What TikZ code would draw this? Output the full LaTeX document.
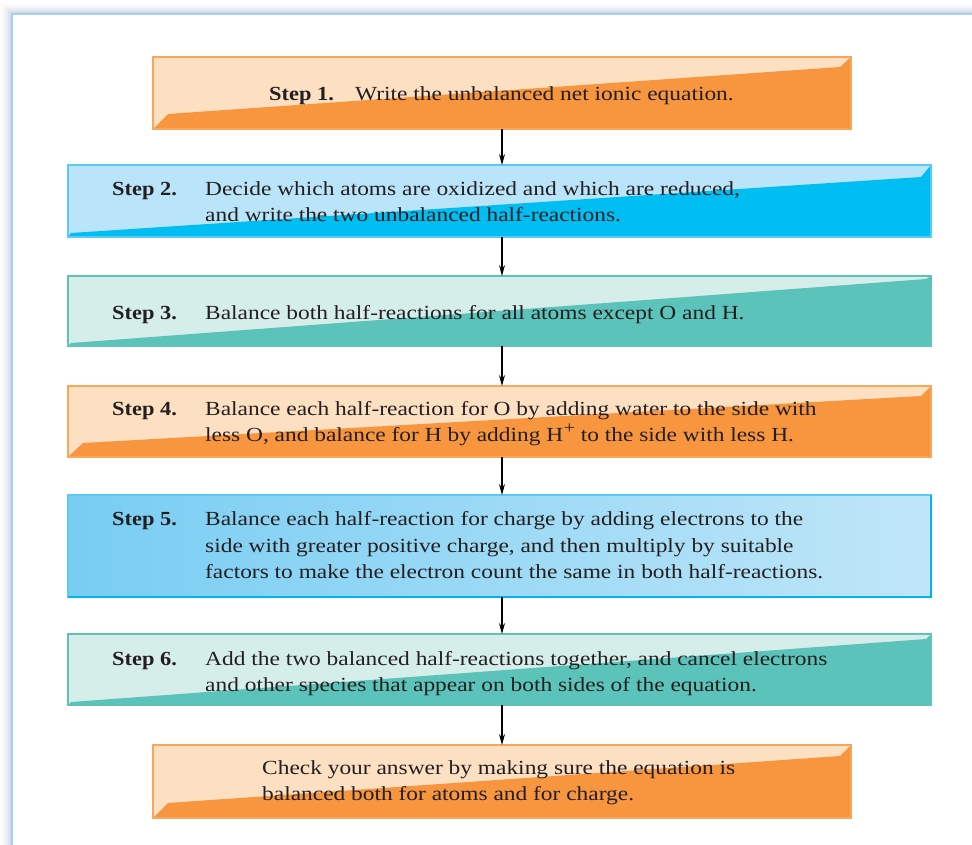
\documentclass[tikz,border=0pt]{standalone}
\usepackage{fontspec}
\setmainfont[FakeStretch=1.17,BoldFeatures={FakeStretch=1.12}]{Liberation Serif}
\usetikzlibrary{arrows.meta,calc}
\definecolor{orD}{HTML}{F7963F}
\definecolor{orL}{HTML}{FDDFC2}
\definecolor{orB}{HTML}{F9A65A}
\definecolor{blD}{HTML}{00BDF2}
\definecolor{blL}{HTML}{B9E4F9}
\definecolor{blB}{HTML}{5BCBF5}
\definecolor{tlD}{HTML}{5CC3BB}
\definecolor{tlL}{HTML}{D6EEEA}
\definecolor{tlB}{HTML}{5CC3BB}
\definecolor{g5L}{HTML}{78CDF3}
\definecolor{g5R}{HTML}{C0E6F8}
\definecolor{g5B}{HTML}{00B4EC}
\definecolor{txt}{HTML}{231F20}
\definecolor{frameB}{HTML}{A8D0EE}
\definecolor{shad}{HTML}{8FA3C0}
\newcommand{\supplus}{\kern0.5pt\raisebox{8pt}{\fontsize{17}{17}\selectfont +}}
\tikzset{
  box/.style={rectangle, inner sep=0pt, outer sep=0pt, line width=1.2pt},
  orbox/.style={box, fill=orL, draw=orB},
  blbox/.style={box, fill=blL, draw=blB},
  tlbox/.style={box, fill=tlL, draw=tlB},
  steplbl/.style={anchor=base west, inner sep=0pt, text=txt, font=\fontsize{20}{26}\selectfont\bfseries},
  body/.style={anchor=base west, inner sep=0pt, text=txt, font=\fontsize{20}{26}\selectfont},
  flow/.style={draw=black, line width=1.1pt, -{Stealth[length=11pt,width=6pt]}},
}
\begin{document}
\begin{tikzpicture}[x=1pt,y=-1pt]
\useasboundingbox (0,0) rectangle (972,844);
% frame shadow
\foreach \d/\o in {12/0.02,10/0.04,8/0.06,6/0.09,4/0.13,2/0.18}{
  \fill[shad, opacity=\o] (12-\d,14-\d) rectangle (1000,870);
}
\fill[white] (12,14) rectangle (1000,870);
\draw[frameB, line width=2pt] (12,14) -- (12,870) (12,14) -- (1000,14);

% boxes
\node[orbox, minimum width=698pt, minimum height=72pt] (b1) at (502,93) {};
\fill[orD] (153,129) -- (168,114) -- (840,67) -- (851,57) -- (851,129) -- cycle;
\draw[orB, line width=1.2pt] (b1.south west) rectangle (b1.north east);

\node[blbox, minimum width=863pt, minimum height=72pt] (b2) at (499.5,201) {};
\fill[blD] (68,237) -- (71,233) -- (921,177) -- (931,165) -- (931,237) -- cycle;
\draw[blB, line width=1.2pt] (b2.south west) rectangle (b2.north east);

\node[tlbox, minimum width=863pt, minimum height=70pt] (b3) at (499.5,311) {};
\fill[tlD] (68,346) -- (71,343) -- (926,279) -- (931,276) -- (931,346) -- cycle;
\draw[tlB, line width=1.2pt] (b3.south west) rectangle (b3.north east);

\node[orbox, minimum width=863pt, minimum height=71pt] (b4) at (499.5,421.5) {};
\fill[orD] (68,457) -- (83,443) -- (921,396) -- (931,386) -- (931,457) -- cycle;
\draw[orB, line width=1.2pt] (b4.south west) rectangle (b4.north east);

\node[box, minimum width=863pt, minimum height=102pt, left color=g5L, right color=g5R, draw=blB] (b5) at (499.5,546) {};
\draw[g5B, line width=2.5pt] (b5.north east) -- (b5.south east) -- (b5.south west);

\node[tlbox, minimum width=863pt, minimum height=71pt] (b6) at (499.5,669.5) {};
\fill[tlD] (68,705) -- (71,702) -- (926,639) -- (931,634) -- (931,705) -- cycle;
\draw[tlB, line width=1.2pt] (b6.south west) rectangle (b6.north east);

\node[orbox, minimum width=698pt, minimum height=73pt] (b7) at (502,781.5) {};
\fill[orD] (153,818) -- (168,803) -- (840,756) -- (851,745) -- (851,818) -- cycle;
\draw[orB, line width=1.2pt] (b7.south west) rectangle (b7.north east);

% arrows
\coordinate (ax) at (502,0);
\draw[flow] (b1.south -| ax) -- (b2.north -| ax);
\draw[flow] (b2.south -| ax) -- (b3.north -| ax);
\draw[flow] (b3.south -| ax) -- (b4.north -| ax);
\draw[flow] (b4.south -| ax) -- (b5.north -| ax);
\draw[flow] (b5.south -| ax) -- (b6.north -| ax);
\draw[flow] (b6.south -| ax) -- (b7.north -| ax);

% texts
\node[steplbl] (s1) at (269,100) {Step 1.};
\node[body] (t1) at (355,100) {Write the unbalanced net ionic equation.};

\node[steplbl] (s2) at (112,195) {Step 2.};
\node[body] (t2a) at (205,195) {Decide which atoms are oxidized and which are reduced,};
\node[body] (t2b) at (205,221) {and write the two unbalanced half-reactions.};

\node[steplbl] (s3) at (112,319) {Step 3.};
\node[body] (t3) at (205,319) {Balance both half-reactions for all atoms except O and H.};

\node[steplbl] (s4) at (112,415) {Step 4.};
\node[body] (t4a) at (205,415) {Balance each half-reaction for O by adding water to the side with};
\node[body] (t4b) at (205,441) {less O, and balance for H by adding H\supplus{} to the side with less H.};

\node[steplbl] (s5) at (112,525) {Step 5.};
\node[body] (t5a) at (205,525) {Balance each half-reaction for charge by adding electrons to the};
\node[body] (t5b) at (205,552) {side with greater positive charge, and then multiply by suitable};
\node[body] (t5c) at (205,578) {factors to make the electron count the same in both half-reactions.};

\node[steplbl] (s6) at (112,665) {Step 6.};
\node[body] (t6a) at (205,665) {Add the two balanced half-reactions together, and cancel electrons};
\node[body] (t6b) at (205,691) {and other species that appear on both sides of the equation.};

\node[body] (t7a) at (262,774) {Check your answer by making sure the equation is};
\node[body] (t7b) at (262,800) {balanced both for atoms and for charge.};
\end{tikzpicture}
\end{document}
